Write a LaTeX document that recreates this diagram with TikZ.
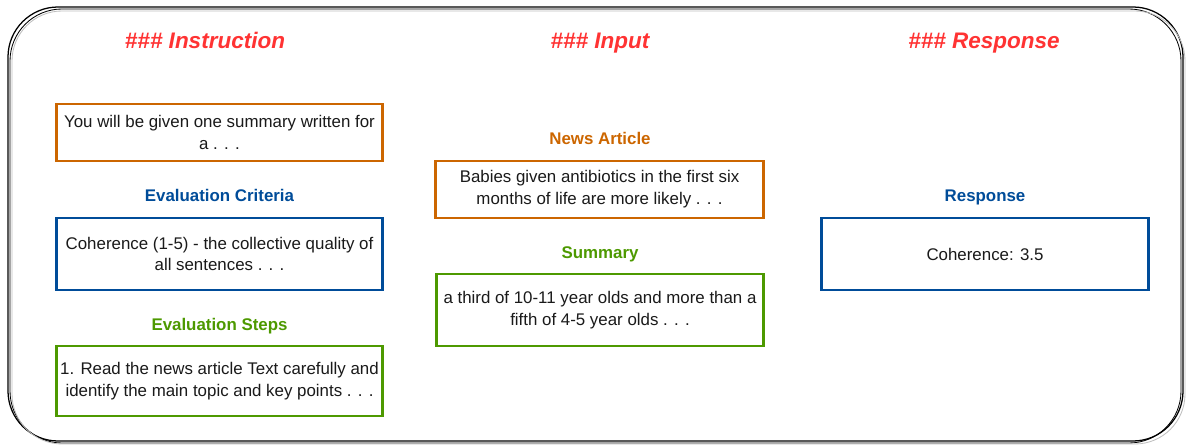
\documentclass[tikz,border=0pt]{standalone}
\usepackage{fontspec}
\setmainfont{Liberation Sans}
\definecolor{headred}{HTML}{FF3333}
\definecolor{artorange}{HTML}{CC6600}
\definecolor{critblue}{HTML}{004C99}
\definecolor{stepgreen}{HTML}{4D9900}
\definecolor{bodytext}{HTML}{1A1A1A}
\begin{document}
\begin{tikzpicture}[x=0.025cm,y=-0.025cm]
	\tikzstyle{heading} = [font=\fontsize{16}{19}\selectfont\bfseries\itshape,text=headred,anchor=base]
	\tikzstyle{label} = [font=\fontsize{12}{14}\selectfont\bfseries,anchor=base]
	\tikzstyle{card} = [draw,line width=2.1pt,fill=white,align=center,text=bodytext,
		font=\fontsize{12}{15.6}\selectfont,minimum width=8.125cm,inner sep=2pt]
	\useasboundingbox (0,0) rectangle (1188,445);
	% frame
	\draw[line width=0.9pt,rounded corners=1.25cm] (8,7) rectangle (1183,441);
	\draw[line width=0.6pt,rounded corners=1.3cm] (10,9) rectangle (1181,443);
	\draw[black!25,line width=0.6pt,rounded corners=1.25cm] (12,11) rectangle (1185,444);
	% headings
	\foreach \x/\t in {205/Instruction,600/Input,984/Response}
		\node[heading] (head\t) at (\x,49) {\#\#\# \t};
	% instruction column
	\node[card,draw=artorange,minimum height=1.425cm] (instr) at (219.5,132.5)
		{You will be given one summary written for\\a . . .};
	\node[label,text=critblue] (critlabel) at (219.5,202) {Evaluation Criteria};
	\node[card,draw=critblue,minimum height=1.8cm] (crit) at (219.5,254)
		{Coherence (1-5) - the collective quality of\\all sentences . . .};
	\node[label,text=stepgreen] (steplabel) at (219.5,330) {Evaluation Steps};
	\node[card,draw=stepgreen,minimum height=1.75cm] (steps) at (219.5,381)
		{1. Read the news article Text carefully and\\identify the main topic and key points . . .};
	% input column
	\node[label,text=artorange] (newslabel) at (600,145) {News Article};
	\node[card,draw=artorange,minimum width=8.175cm,minimum height=1.425cm] (news) at (599.5,189.5)
		{Babies given antibiotics in the first six\\months of life are more likely . . .};
	\node[label,text=stepgreen] (summlabel) at (600,259) {Summary};
	\node[card,draw=stepgreen,minimum width=8.15cm,minimum height=1.8cm] (summ) at (600,310)
		{a third of 10-11 year olds and more than a\\fifth of 4-5 year olds . . .};
	% response column
	\node[label,text=critblue] (resplabel) at (985,202) {Response};
	\node[card,draw=critblue,minimum width=8.15cm,minimum height=1.8cm] (resp) at (985,254)
		{Coherence: 3.5};
\end{tikzpicture}
\end{document}
